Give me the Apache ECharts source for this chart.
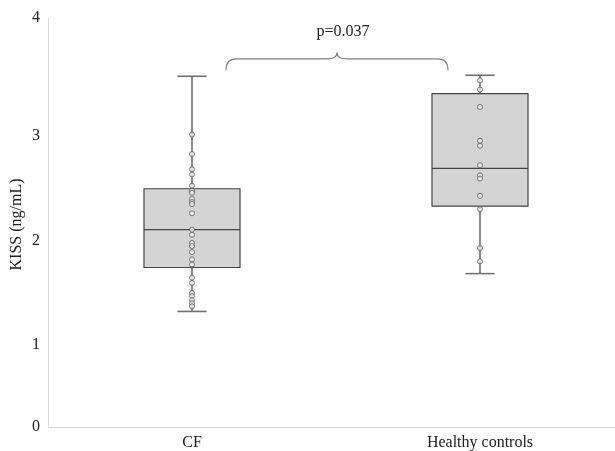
<!DOCTYPE html>
<html>
<head>
<meta charset="utf-8">
<script src="https://cdn.jsdelivr.net/npm/echarts@6/dist/echarts.min.js"></script>
<style>html,body{margin:0;padding:0;background:#fff}#c{width:615px;height:451px}</style>
</head>
<body>
<div id="c"></div>
<script>
const categories = ['CF', 'Healthy controls'];
// [min, Q1, median, Q3, max]
const cfBox = [1.13, 1.56, 1.93, 2.33, 3.43];
const hcBox = [1.50, 2.16, 2.53, 3.26, 3.44];
const cfPoints = [2.86, 2.67, 2.52, 2.47, 2.36, 2.31, 2.29, 2.23, 2.20, 2.18, 2.09, 1.93, 1.88, 1.80, 1.77, 1.71, 1.64, 1.59, 1.46, 1.41, 1.31, 1.28, 1.24, 1.21, 1.18];
const hcPoints = [3.39, 3.30, 3.13, 2.80, 2.75, 2.56, 2.46, 2.43, 2.26, 2.13, 1.75, 1.62];
const yTicks = [0, 1, 2, 3, 4];
const pText = 'p=0.037';
const yName = 'KISS (ng/mL)';

const font = '"Liberation Serif", "Times New Roman", serif';
const chart = echarts.init(document.getElementById('c'));

const scatterData = [];
cfPoints.forEach(v => scatterData.push([categories[0], v]));
hcPoints.forEach(v => scatterData.push([categories[1], v]));
const boxData = [[0].concat(cfBox), [1].concat(hcBox)];

// vertical nudges of the middle tick labels, as in the original figure
const labelPad = { 1: 40, 2: 36, 3: 32 };

function renderBox(params, api) {
  const i = api.value(0);
  const lo = api.coord([i, api.value(1)]);
  const q1 = api.coord([i, api.value(2)]);
  const md = api.coord([i, api.value(3)]);
  const q3 = api.coord([i, api.value(4)]);
  const hi = api.coord([i, api.value(5)]);
  const bw = api.size([1, 0])[0] / 3;
  const cw = 29;
  const x = lo[0];
  const wStyle = { stroke: '#707070', lineWidth: 1.6 };
  return {
    type: 'group',
    children: [
      { type: 'line', shape: { x1: x, y1: hi[1], x2: x, y2: lo[1] }, style: wStyle },
      { type: 'line', shape: { x1: x - cw / 2, y1: hi[1], x2: x + cw / 2, y2: hi[1] }, style: wStyle },
      { type: 'line', shape: { x1: x - cw / 2, y1: lo[1], x2: x + cw / 2, y2: lo[1] }, style: wStyle },
      { type: 'rect', shape: { x: x - bw / 2, y: q3[1], width: bw, height: q1[1] - q3[1] }, style: { fill: '#d4d4d4', stroke: '#454545', lineWidth: 1.2 } },
      { type: 'line', shape: { x1: x - bw / 2, y1: md[1], x2: x + bw / 2, y2: md[1] }, style: { stroke: '#454545', lineWidth: 1.2 } }
    ]
  };
}

chart.setOption({
  animation: false,
  grid: { left: 48, top: 18, bottom: 24, width: 576, outerBoundsMode: 'none', containLabel: false },
  xAxis: {
    type: 'category',
    data: categories,
    axisLine: { lineStyle: { color: '#d9d9d9', width: 1 } },
    axisTick: { show: false },
    axisLabel: { color: '#222', fontFamily: font, fontSize: 16, margin: 8 },
    splitLine: { show: false }
  },
  yAxis: {
    type: 'value',
    min: yTicks[0],
    max: yTicks[yTicks.length - 1],
    interval: 1,
    axisLine: { show: true, lineStyle: { color: '#d9d9d9', width: 1 } },
    axisTick: { show: false },
    axisLabel: {
      color: '#222', fontFamily: font, fontSize: 16, margin: 8,
      formatter: v => (labelPad[v] ? '{p' + v + '|' + v + '}' : String(v)),
      rich: {
        p1: { fontFamily: font, fontSize: 16, color: '#222', padding: [labelPad[1], 0, 0, 0] },
        p2: { fontFamily: font, fontSize: 16, color: '#222', padding: [labelPad[2], 0, 0, 0] },
        p3: { fontFamily: font, fontSize: 16, color: '#222', padding: [labelPad[3], 0, 0, 0] }
      }
    },
    splitLine: { show: false }
  },
  series: [
    {
      type: 'custom',
      renderItem: renderBox,
      data: boxData,
      encode: { x: 0, y: [1, 2, 3, 4, 5] },
      z: 2
    },
    {
      type: 'scatter',
      data: scatterData,
      symbol: 'circle',
      symbolSize: 5,
      itemStyle: { color: '#f0f0f0', borderColor: '#5a5a5a', borderWidth: 1 },
      z: 3
    }
  ]
});

// brace annotation between the two groups
const pL = chart.convertToPixel({ gridIndex: 0 }, [0, 3.49]);
const pR = chart.convertToPixel({ gridIndex: 0 }, [1, 3.49]);
const yMid = chart.convertToPixel({ gridIndex: 0 }, [0, 3.60])[1];
const yPeak = chart.convertToPixel({ gridIndex: 0 }, [0, 3.66])[1];
const x0 = pL[0] + 34, x1 = pR[0] - 32, yEnd = pL[1];
const xc = (x0 + x1) / 2;
const r = 10;
const st = { fill: null, stroke: '#808080', lineWidth: 1.1 };
const yCenter = chart.convertToPixel({ gridIndex: 0 }, [0, 2])[1];
chart.setOption({
  graphic: [
    { type: 'bezierCurve', shape: { x1: x0, y1: yEnd, x2: x0 + r, y2: yMid, cpx1: x0, cpy1: yMid }, style: st },
    { type: 'line', shape: { x1: x0 + r, y1: yMid, x2: xc - r, y2: yMid }, style: st },
    { type: 'bezierCurve', shape: { x1: xc - r, y1: yMid, x2: xc, y2: yPeak, cpx1: xc, cpy1: yMid }, style: st },
    { type: 'bezierCurve', shape: { x1: xc, y1: yPeak, x2: xc + r, y2: yMid, cpx1: xc, cpy1: yMid }, style: st },
    { type: 'line', shape: { x1: xc + r, y1: yMid, x2: x1 - r, y2: yMid }, style: st },
    { type: 'bezierCurve', shape: { x1: x1 - r, y1: yMid, x2: x1, y2: yEnd, cpx1: x1, cpy1: yMid }, style: st },
    { type: 'text', x: xc + 6, y: yPeak - 21, style: { text: pText, fill: '#222', font: '16px ' + font, textAlign: 'center', textVerticalAlign: 'middle' } },
    { type: 'text', x: 17, y: yCenter + 2, rotation: Math.PI / 2, style: { text: yName, fill: '#222', font: '16px ' + font, textAlign: 'center', textVerticalAlign: 'middle' } }
  ]
});
</script>
</body>
</html>
